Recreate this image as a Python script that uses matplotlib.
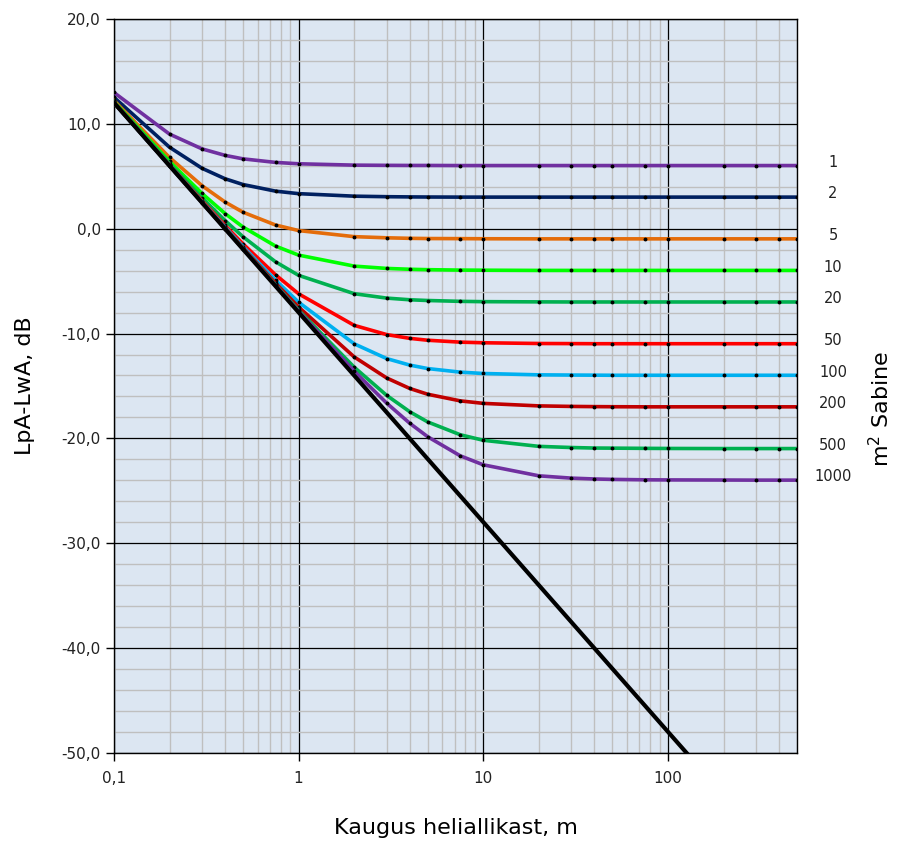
import numpy as np
import matplotlib
matplotlib.use('Agg')
import matplotlib.pyplot as plt
from matplotlib.ticker import FixedLocator, FuncFormatter, LogLocator, MultipleLocator
import matplotlib.transforms as mtransforms

# kaugused (m)
dist = [0.1, 0.2, 0.3, 0.4, 0.5, 0.75, 1, 2, 3, 4, 5, 7.5, 10, 20, 30, 40, 50, 75, 100, 200, 300, 400, 500]

# otsene väli (must joon)
direct = [12.02, 6.00, 2.48, -0.02, -1.96, -5.48, -7.98, -14.00, -17.52, -20.02, -21.96, -25.48,
          -27.98, -34.00, -37.52, -40.02, -41.96, -45.48, -47.98, -54.00, -57.52, -60.02, -61.96]

# ruumikonstant, m2 Sabine
sabine = ['1', '2', '5', '10', '20', '50', '100', '200', '500', '1000']

s1 = [12.99, 9.02, 7.61, 6.99, 6.66, 6.32, 6.19, 6.06, 6.04, 6.03, 6.03, 6.02, 6.02,
      6.02, 6.02, 6.02, 6.02, 6.02, 6.02, 6.02, 6.02, 6.02, 6.02]
s2 = [12.53, 7.77, 5.76, 4.76, 4.21, 3.58, 3.34, 3.10, 3.05, 3.03, 3.02, 3.01, 3.01,
      3.01, 3.01, 3.01, 3.01, 3.01, 3.01, 3.01, 3.01, 3.01, 3.01]
s5 = [12.23, 6.79, 4.10, 2.54, 1.57, 0.35, -0.18, -0.76, -0.87, -0.92, -0.94, -0.95, -0.96,
      -0.97, -0.97, -0.97, -0.97, -0.97, -0.97, -0.97, -0.97, -0.97, -0.97]
s10 = [12.13, 6.41, 3.36, 1.44, 0.16, -1.66, -2.52, -3.57, -3.79, -3.87, -3.91, -3.95, -3.96,
       -3.98, -3.98, -3.98, -3.98, -3.98, -3.98, -3.98, -3.98, -3.98, -3.98]
s20 = [12.07, 6.21, 2.94, 0.77, -0.77, -3.16, -4.45, -6.20, -6.62, -6.78, -6.85, -6.93, -6.96,
       -6.98, -6.99, -6.99, -6.99, -6.99, -6.99, -6.99, -6.99, -6.99, -6.99]
s50 = [12.04, 6.08, 2.67, 0.31, -1.45, -4.40, -6.21, -9.22, -10.10, -10.46, -10.64, -10.82, -10.88,
       -10.95, -10.96, -10.97, -10.97, -10.97, -10.97, -10.97, -10.97, -10.97, -10.97]
s100 = [12.03, 6.04, 2.57, 0.15, -1.70, -4.91, -7.01, -10.98, -12.39, -13.01, -13.34, -13.68, -13.81,
        -13.94, -13.96, -13.97, -13.98, -13.98, -13.98, -13.98, -13.98, -13.98, -13.98]
s200 = [12.02, 6.02, 2.52, 0.06, -1.83, -5.19, -7.47, -12.23, -14.24, -15.24, -15.79, -16.42, -16.66,
        -16.90, -16.95, -16.97, -16.98, -16.99, -16.99, -16.99, -16.99, -16.99, -16.99]
s500 = [12.02, 6.01, 2.50, 0.01, -1.91, -5.36, -7.77, -13.21, -15.90, -17.46, -18.43, -19.65, -20.18,
        -20.76, -20.87, -20.92, -20.93, -20.95, -20.96, -20.97, -20.97, -20.97, -20.97]
s1000 = [12.02, 6.00, 2.49, -0.01, -1.93, -5.42, -7.87, -13.59, -16.64, -18.56, -19.84, -21.66, -22.52,
         -23.57, -23.79, -23.87, -23.91, -23.95, -23.96, -23.97, -23.98, -23.98, -23.98]

series = [s1, s2, s5, s10, s20, s50, s100, s200, s500, s1000]
colors = ['#7030A0', '#002060', '#E46C0A', '#00FF00', '#00B050',
          '#FF0000', '#00B0F0', '#C00000', '#00B050', '#7030A0']

fig = plt.figure(figsize=(9.04, 8.43), dpi=100)
ax = fig.add_axes([0.126, 0.1068, 0.7557, 0.8707])
ax.set_facecolor('#DCE6F2')

for s, c in zip(series, colors):
    ax.plot(dist, s, color=c, lw=2.6, marker='o', ms=1.8, mfc='black', mec='black', zorder=3)
ax.plot(dist, direct, color='black', lw=3.0, zorder=4)

ax.set_xscale('log')
ax.set_xlim(0.1, 500)
ax.set_ylim(-50, 20)

ax.xaxis.set_major_locator(FixedLocator([0.1, 1, 10, 100]))
ax.xaxis.set_minor_locator(LogLocator(base=10, subs=np.arange(2, 10), numticks=20))
ax.xaxis.set_major_formatter(FuncFormatter(lambda v, p: ('%g' % v).replace('.', ',')))
ax.xaxis.set_minor_formatter(FuncFormatter(lambda v, p: ''))
ax.yaxis.set_major_locator(MultipleLocator(10))
ax.yaxis.set_minor_locator(MultipleLocator(2))
ax.yaxis.set_major_formatter(FuncFormatter(lambda v, p: ('%.1f' % v).replace('.', ',')))

ax.set_axisbelow(True)
ax.grid(which='minor', color='#BFBFBF', lw=1.0)
ax.grid(which='major', color='black', lw=0.9)
ax.tick_params(which='major', length=6, width=1, labelsize=11, color='black', labelcolor='#222222')
ax.tick_params(which='minor', length=0)
ax.tick_params(axis='x', pad=7)
for sp in ax.spines.values():
    sp.set_color('black')
    sp.set_linewidth(1.0)

ax.set_xlabel('Kaugus heliallikast, m', fontsize=16, labelpad=23)
ax.set_ylabel('LpA-LwA, dB', fontsize=16, labelpad=19)

trans = mtransforms.blended_transform_factory(ax.transAxes, ax.transData)
for lab, s in zip(sabine, series):
    ax.text(1.0527, s[-1] + 0.3, lab, transform=trans, ha='center', va='center',
            fontsize=10.5, color='#222222')
fig.text(0.974, 0.515, 'm$^2$ Sabine', rotation=90, ha='center', va='center', fontsize=16)

fig.savefig('out.png', dpi=100)
